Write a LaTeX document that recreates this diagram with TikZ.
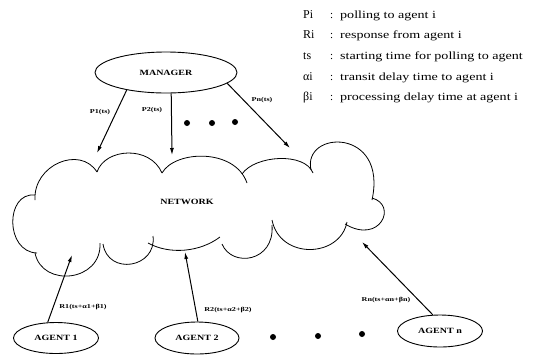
\documentclass[tikz,border=0pt]{standalone}
\usepackage{fontspec}
\setmainfont{Liberation Serif}
\usetikzlibrary{shapes.geometric,arrows.meta}
\tikzset{
  oval/.style={ellipse,draw,line width=0.9pt,inner sep=0pt},
  lbl/.style={font=\bfseries\fontsize{8}{9}\selectfont},
  arrlbl/.style={font=\bfseries\fontsize{6}{7}\selectfont,inner sep=0pt},
  conn/.style={line width=1pt,-{Latex[length=7pt,width=4pt]}},
  cloudline/.style={line width=0.8pt},
  dot/.style={circle,fill,inner sep=0pt,minimum size=6pt},
  legsym/.style={anchor=base west,inner sep=0pt,font=\fontsize{12}{14}\selectfont},
  legtxt/.style={anchor=base west,inner sep=0pt,font=\fontsize{11}{13}\selectfont}
}
\newcommand{\wide}[1]{\scalebox{1.25}[1]{#1}}
\newcommand{\legw}[1]{\scalebox{1.28}[1]{#1}}
\begin{document}
\begin{tikzpicture}[x=1pt,y=-1pt]
\useasboundingbox (0,0) rectangle (534,357);
% nodes
\node[oval,minimum width=142pt,minimum height=41pt] (mgr) at (166,72.5) {};
\node[lbl] (mgrt) at (166,72.5) {\wide{MANAGER}};
\node[oval,minimum width=85pt,minimum height=31pt] (a1) at (56,338) {};
\node[lbl] (a1t) at (56,338) {\wide{AGENT 1}};
\node[oval,minimum width=84pt,minimum height=32pt] (a2) at (197,338) {};
\node[lbl] (a2t) at (197,338) {\wide{AGENT 2}};
\node[oval,minimum width=85pt,minimum height=32pt] (an) at (440,331) {};
\node[lbl] (ant) at (440,331) {\wide{AGENT n}};
\node[lbl] (net) at (187,202) {\wide{NETWORK}};
% cloud
\draw[cloudline] (35,200) .. controls (33,165) and (80,145) .. (97,172);
\draw[cloudline] (97,172) .. controls (105,148) and (150,145) .. (162,173);
\draw[cloudline] (162,173) .. controls (175,150) and (235,148) .. (247,183);
\draw[cloudline] (242,174) .. controls (255,155) and (305,152) .. (313,173);
\draw[cloudline] (311,170) .. controls (302,130) and (388,127) .. (372,200);
\draw[cloudline] (372,198) .. controls (398,205) and (380,245) .. (345,224);
\draw[cloudline] (347,222) .. controls (340,258) and (280,260) .. (272,220);
\draw[cloudline] (272,225) .. controls (275,262) and (232,268) .. (222,244);
\draw[cloudline] (220,237) .. controls (200,252) and (170,255) .. (148,243);
\draw[cloudline] (153,236) .. controls (157,268) and (108,276) .. (103,244);
\draw[cloudline] (100,243) .. controls (102,282) and (42,288) .. (35,253);
\draw[cloudline] (37,253) .. controls (5,252) and (5,192) .. (35,195);
% tips
\coordinate (t1) at (97,153);
\coordinate (t2) at (172,155);
\coordinate (tn) at (290,148);
\coordinate (r1) at (72,255);
\coordinate (r2) at (185,252);
\coordinate (rn) at (362,242);
% connectors
\draw[conn] (mgr.204) -- (t1);
\draw[conn] (mgr.284) -- (t2);
\draw[conn] (mgr.350) -- (tn);
\draw[conn] (a1.118) -- (r1);
\draw[conn] (a2.87) -- (r2);
\draw[conn] (an.114) -- (rn);
% arrow labels
\node[arrlbl] (lp1) at (100,112) {\scalebox{1.35}[1]{P1(ts)}};
\node[arrlbl] (lp2) at (152,110) {\scalebox{1.35}[1]{P2(ts)}};
\node[arrlbl] (lpn) at (262,100) {\scalebox{1.35}[1]{Pn(ts)}};
\node[arrlbl] (lr1) at (83,307) {\scalebox{1.35}[1]{R1(ts+α1+β1)}};
\node[arrlbl] (lr2) at (228,310) {\scalebox{1.35}[1]{R2(ts+α2+β2)}};
\node[arrlbl] (lrn) at (386,300) {\scalebox{1.35}[1]{Rn(ts+αn+βn)}};
% dots
\node[dot] (d1) at (187,123) {};
\node[dot] (d2) at (212,123) {};
\node[dot] (d3) at (235,122) {};
\node[dot] (d4) at (273,337) {};
\node[dot] (d5) at (318,336) {};
\node[dot] (d6) at (362,334) {};
% legend
\node[legsym] (s1) at (303,18) {Pi};
\node[legsym] (s2) at (303,38) {Ri};
\node[legsym] (s3) at (303,59) {ts};
\node[legsym] (s4) at (303,80) {αi};
\node[legsym] (s5) at (303,100) {βi};
\foreach \yy/\nm in {18/c1,38/c2,59/c3,80/c4,100/c5}
  \node[legtxt] (\nm) at (330,\yy) {:};
\node[legtxt] (e1) at (340,18) {\legw{polling to agent i}};
\node[legtxt] (e2) at (340,38) {\legw{response from agent i}};
\node[legtxt] (e3) at (340,59) {\legw{starting time for polling to agent}};
\node[legtxt] (e4) at (340,80) {\legw{transit delay time to agent i}};
\node[legtxt] (e5) at (340,100) {\legw{processing delay time at agent i}};
\end{tikzpicture}
\end{document}
